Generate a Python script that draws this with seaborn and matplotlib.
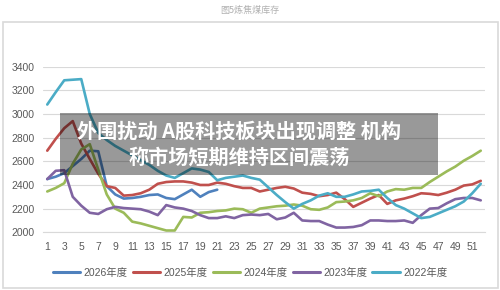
import matplotlib
matplotlib.use("Agg")
import matplotlib.pyplot as plt
from matplotlib.patches import Rectangle
import seaborn as sns
import pandas as pd

weeks = list(range(1, 53))
years = ["2026年度", "2025年度", "2024年度", "2023年度", "2022年度"]
colors = ["#4F81BD", "#C0504D", "#9BBB59", "#8064A2", "#4BACC6"]

v2026 = [2450, 2470, 2500, 2560, 2620, 2690, 2685, 2390, 2320, 2285, 2290, 2300, 2315, 2320,
         2290, 2280, 2320, 2360, 2300, 2340, 2360]
v2025 = [2690, 2790, 2880, 2940, 2750, 2620, 2495, 2390, 2375, 2310, 2315, 2330, 2360, 2410,
         2425, 2430, 2430, 2420, 2400, 2400, 2420, 2410, 2390, 2375, 2375, 2345, 2360, 2375,
         2385, 2370, 2335, 2325, 2305, 2315, 2335, 2280, 2215, 2250, 2285, 2315, 2240, 2270,
         2285, 2305, 2330, 2325, 2315, 2335, 2360, 2395, 2405, 2435]
v2024 = [2345, 2375, 2415, 2580, 2700, 2745, 2530, 2320, 2200, 2165, 2090, 2075, 2055, 2035,
         2015, 2015, 2130, 2125, 2165, 2170, 2180, 2185, 2200, 2195, 2165, 2200, 2210, 2220,
         2225, 2235, 2225, 2195, 2190, 2210, 2255, 2260, 2270, 2290, 2330, 2305, 2345, 2365,
         2360, 2375, 2375, 2425, 2470, 2515, 2555, 2605, 2645, 2690]
v2023 = [2450, 2520, 2525, 2300, 2225, 2165, 2155, 2195, 2215, 2205, 2200, 2195, 2175, 2145,
         2230, 2210, 2200, 2180, 2145, 2120, 2120, 2135, 2120, 2145, 2150, 2145, 2155, 2110,
         2125, 2165, 2100, 2095, 2095, 2065, 2040, 2040, 2045, 2060, 2100, 2100, 2095, 2095,
         2100, 2080, 2145, 2200, 2205, 2245, 2280, 2290, 2290, 2270]
v2022 = [3080, 3185, 3285, 3290, 3295, 3000, 2840, 2780, 2730, 2690, 2650, 2610, 2570, 2520,
         2480, 2460, 2500, 2540, 2530, 2510, 2440, 2460, 2470, 2480, 2460, 2445, 2380, 2315,
         2255, 2200, 2240, 2270, 2310, 2330, 2300, 2300, 2320, 2345, 2350, 2360, 2290, 2230,
         2200, 2160, 2120, 2130, 2160, 2190, 2220, 2260, 2330, 2410]

series = [v2026, v2025, v2024, v2023, v2022]
rows = []
for name, vals in zip(years, series):
    for w, v in zip(weeks, vals):
        rows.append({"week": w, "value": v, "year": name})
df = pd.DataFrame(rows)

sns.set_theme(style="white")
plt.rcParams["font.family"] = ["Liberation Sans", "Noto Sans CJK SC", "DejaVu Sans"]

fig = plt.figure(figsize=(5, 2.9), dpi=100)
ax = fig.add_axes([0.086, 0.199, 0.884, 0.571])

sns.lineplot(data=df, x="week", y="value", hue="year", hue_order=years,
             palette=dict(zip(years, colors)), linewidth=1.9, sort=False,
             estimator=None, ax=ax)

ax.set_xlim(0.5, 52.5)
ax.set_ylim(2000, 3400)
ax.set_yticks(range(2000, 3401, 200))
ax.set_xticks(list(range(1, 53, 2)))
ax.set_xlabel("")
ax.set_ylabel("")
ax.yaxis.grid(True, color="#d9d9d9", linewidth=0.8)
ax.set_axisbelow(True)
for s in ["top", "right", "left"]:
    ax.spines[s].set_visible(False)
ax.spines["bottom"].set_color("#d9d9d9")
ax.spines["bottom"].set_linewidth(0.8)
ax.tick_params(axis="both", length=0, labelsize=7.5, colors="#595959")
ax.tick_params(axis="y", pad=6)
ax.tick_params(axis="x", pad=7)

sns.move_legend(ax, "center", bbox_to_anchor=(0.5, 1 - 273 / 290),
                bbox_transform=fig.transFigure, ncol=5, frameon=False, title=None,
                fontsize=7.5, handlelength=2.6, handletextpad=0.35, columnspacing=0.5)
for t in ax.get_legend().get_texts():
    t.set_color("#595959")
for l in ax.get_legend().get_lines():
    l.set_linewidth(2.2)

# outer chart frame
fig.patches.append(Rectangle((3 / 500, 2 / 290), 495 / 500, 266 / 290, transform=fig.transFigure,
                             fill=False, edgecolor="#d9d9d9", linewidth=1.2, zorder=1))
fig.text(0.5, 1 - 10.7 / 290, "图5炼焦煤库存", ha="center", va="center", fontsize=6.5,
         color="#b0b0b0", family=["Noto Sans CJK SC", "DejaVu Sans"])

# overlay banner
fig.patches.append(Rectangle((60 / 500, 1 - 175 / 290), 378 / 500, 62 / 290, transform=fig.transFigure,
                             facecolor="black", alpha=0.4, edgecolor="none", zorder=5))
fig.text(239 / 500, 1 - 131 / 290, "外围扰动 A股科技板块出现调整 机构", ha="center", va="center",
         fontsize=14.5, fontweight="bold", color="white", zorder=6,
         family=["Noto Sans CJK SC", "DejaVu Sans"])
fig.text(239 / 500, 1 - 157 / 290, "称市场短期维持区间震荡", ha="center", va="center",
         fontsize=14.5, fontweight="bold", color="white", zorder=6,
         family=["Noto Sans CJK SC", "DejaVu Sans"])

fig.savefig("out.png", dpi=100)
